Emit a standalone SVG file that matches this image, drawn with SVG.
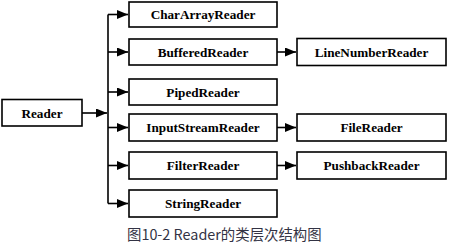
<svg xmlns="http://www.w3.org/2000/svg" width="454" height="244" viewBox="0 0 454 244">
<defs>
<marker id="ah" viewBox="0 0 11 9" refX="11" refY="4.5" markerWidth="11" markerHeight="9" markerUnits="userSpaceOnUse" orient="auto">
<path d="M0,0 L11,4.5 L0,9 Z" fill="#000"/>
</marker>
</defs>
<style>
.box{fill:#fff;stroke:#000;stroke-width:1.6}
.lbl{font-family:"Liberation Serif","Times New Roman",serif;font-weight:bold;font-size:13.2px;fill:#000;text-anchor:middle}
.ln{fill:none;stroke:#000;stroke-width:1.6}
.cap{font-family:"Noto Sans CJK SC","Noto Sans",sans-serif;font-size:14.4px;fill:#333344}
</style>
<rect width="454" height="244" fill="#fff"/>
<g id="connectors">
<line class="ln" x1="108" y1="14.5" x2="108" y2="203.5"/>
<line class="ln" x1="82" y1="113" x2="107" y2="113" marker-end="url(#ah)"/>
<line class="ln" x1="108" y1="14.5" x2="128" y2="14.5" marker-end="url(#ah)"/>
<line class="ln" x1="108" y1="52" x2="128" y2="52" marker-end="url(#ah)"/>
<line class="ln" x1="108" y1="92" x2="128" y2="92" marker-end="url(#ah)"/>
<line class="ln" x1="108" y1="127.5" x2="128" y2="127.5" marker-end="url(#ah)"/>
<line class="ln" x1="108" y1="165.5" x2="128" y2="165.5" marker-end="url(#ah)"/>
<line class="ln" x1="108" y1="203.5" x2="128" y2="203.5" marker-end="url(#ah)"/>
<line class="ln" x1="277" y1="52" x2="296" y2="52" marker-end="url(#ah)"/>
<line class="ln" x1="277" y1="127.5" x2="296" y2="127.5" marker-end="url(#ah)"/>
<line class="ln" x1="277" y1="165.5" x2="296" y2="165.5" marker-end="url(#ah)"/>
</g>
<g id="reader"><rect class="box" x="2" y="99.5" width="80" height="26.5"/><text class="lbl" x="42" y="117.5">Reader</text></g>
<g id="chararrayreader"><rect class="box" x="129" y="2" width="148" height="25"/><text class="lbl" x="203" y="19">CharArrayReader</text></g>
<g id="bufferedreader"><rect class="box" x="129" y="39" width="148" height="26"/><text class="lbl" x="203" y="56.5">BufferedReader</text></g>
<g id="pipedreader"><rect class="box" x="129" y="79" width="148" height="26"/><text class="lbl" x="203" y="96.5">PipedReader</text></g>
<g id="inputstreamreader"><rect class="box" x="129" y="114" width="148" height="27"/><text class="lbl" x="203" y="132">InputStreamReader</text></g>
<g id="filterreader"><rect class="box" x="129" y="152" width="148" height="27"/><text class="lbl" x="203" y="170">FilterReader</text></g>
<g id="stringreader"><rect class="box" x="129" y="190" width="148" height="27"/><text class="lbl" x="203" y="208">StringReader</text></g>
<g id="linenumberreader"><rect class="box" x="297" y="38.5" width="149" height="27"/><text class="lbl" x="371.5" y="56.5">LineNumberReader</text></g>
<g id="filereader"><rect class="box" x="297" y="114" width="149" height="27"/><text class="lbl" x="371.5" y="132">FileReader</text></g>
<g id="pushbackreader"><rect class="box" x="297" y="152" width="149" height="27"/><text class="lbl" x="371.5" y="170">PushbackReader</text></g>
<text class="cap" x="127" y="240">图10-2 Reader的类层次结构图</text>
</svg>
